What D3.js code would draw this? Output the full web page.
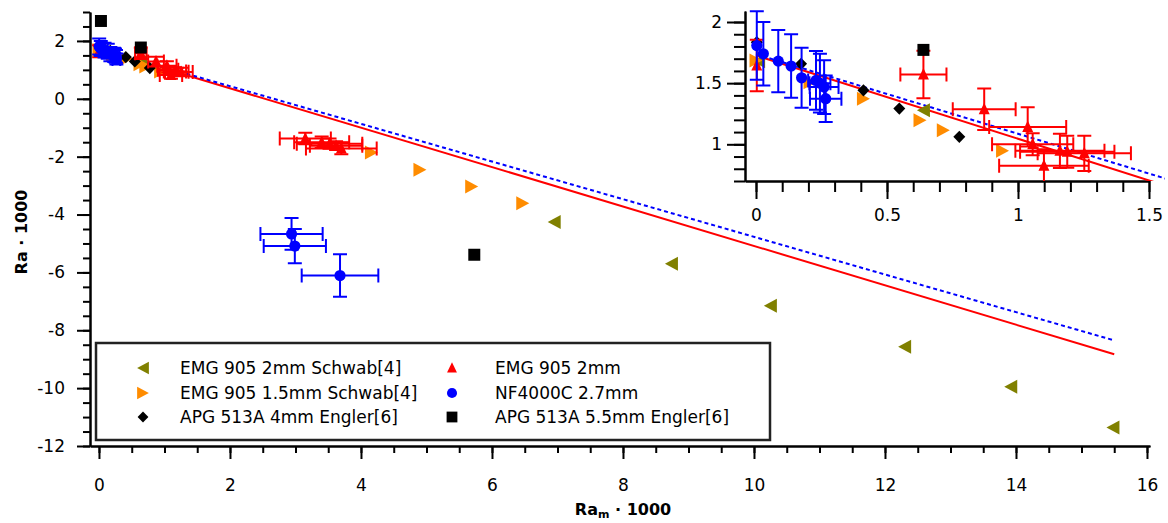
<!DOCTYPE html>
<html>
<head>
<meta charset="utf-8">
<script src="https://cdn.jsdelivr.net/npm/d3@7"></script>
<style>
    body { margin: 0; background: #fff; }
    svg text { font-family: "DejaVu Sans", Verdana, sans-serif; fill: #000; }
    .axis path, .axis line { stroke: #000; }
</style>
</head>
<body>
<div id="chart"></div>
<script>
// EMG 905 2mm Schwab[4]
const schwab2mm = [
    {x: 0.01, y: 1.68}, {x: 0.639, y: 1.278},
    {x: 6.95, y: -4.26}, {x: 8.74, y: -5.70}, {x: 10.25, y: -7.15},
    {x: 12.30, y: -8.57}, {x: 13.92, y: -9.95}, {x: 15.48, y: -11.36}
];
// EMG 905 1.5mm Schwab[4]
const schwab15mm = [
    {x: 0.0, y: 1.685}, {x: 0.206, y: 1.508}, {x: 0.41, y: 1.373}, {x: 0.626, y: 1.197},
    {x: 0.715, y: 1.115}, {x: 0.941, y: 0.947},
    {x: 4.16, y: -1.86}, {x: 4.90, y: -2.45}, {x: 5.69, y: -3.03}, {x: 6.47, y: -3.61}
];
// APG 513A 4mm Engler[6]
const engler4mm = [
    {x: 0.003, y: 1.834}, {x: 0.172, y: 1.658}, {x: 0.41, y: 1.441},
    {x: 0.547, y: 1.292}, {x: 0.776, y: 1.061}
];
// EMG 905 2mm (own measurement, with errors)
const emg2mm = [
    {x: 0.003, y: 1.644, xe: 0, ye: 0.21},
    {x: 0.639, y: 1.571, xe: 0.088, ye: 0.195},
    {x: 0.871, y: 1.286, xe: 0.12, ye: 0.17},
    {x: 1.037, y: 1.142, xe: 0.147, ye: 0.16},
    {x: 1.056, y: 1.0, xe: 0.155, ye: 0.09},
    {x: 1.099, y: 0.825, xe: 0.171, ye: 0.135},
    {x: 1.16, y: 0.947, xe: 0.17, ye: 0.14},
    {x: 1.188, y: 0.939, xe: 0.18, ye: 0.13},
    {x: 1.253, y: 0.926, xe: 0.178, ye: 0.145},
    {x: 3.15, y: -1.37, xe: 0.39, ye: 0.2},
    {x: 3.40, y: -1.50, xe: 0.42, ye: 0.2},
    {x: 3.52, y: -1.55, xe: 0.50, ye: 0.18},
    {x: 3.62, y: -1.62, xe: 0.40, ye: 0.15},
    {x: 3.70, y: -1.72, xe: 0.54, ye: 0.2}
];
// NF4000C 2.7mm
const nf4000c = [
    {x: 0.003, y: 1.807, xe: 0, ye: 0.28},
    {x: 0.028, y: 1.74, xe: 0, ye: 0.26},
    {x: 0.085, y: 1.68, xe: 0, ye: 0.255},
    {x: 0.134, y: 1.64, xe: 0, ye: 0.26},
    {x: 0.174, y: 1.544, xe: 0, ye: 0.245},
    {x: 0.229, y: 1.522, xe: 0.03, ye: 0.24},
    {x: 0.244, y: 1.50, xe: 0.04, ye: 0.24},
    {x: 0.26, y: 1.468, xe: 0.055, ye: 0.22},
    {x: 0.266, y: 1.373, xe: 0.06, ye: 0.19},
    {x: 2.94, y: -4.67, xe: 0.475, ye: 0.55},
    {x: 2.99, y: -5.09, xe: 0.475, ye: 0.59},
    {x: 3.68, y: -6.11, xe: 0.585, ye: 0.735}
];
// APG 513A 5.5mm Engler[6]
const engler55mm = [
    {x: 0.03, y: 2.69}, {x: 0.639, y: 1.772}, {x: 5.73, y: -5.39}
];

// fit lines
const fitX = [0, 15.5];
const fitRed = [1.726, -8.83];
const fitBlue = [1.737, -8.35];

const legendLabels = [
    "EMG 905 2mm Schwab[4]", "EMG 905 1.5mm Schwab[4]", "APG 513A 4mm Engler[6]",
    "EMG 905 2mm", "NF4000C 2.7mm", "APG 513A 5.5mm Engler[6]"
];

const mainXTicks = [0, 2, 4, 6, 8, 10, 12, 14, 16];
const mainYTicks = [-12, -10, -8, -6, -4, -2, 0, 2];
const insetXTicks = [0, 0.5, 1, 1.5];
const insetYTicks = [1, 1.5, 2];


class FitChart {
    constructor(parentElement) {
        this.parentElement = parentElement;
        this.series = [
            {label: legendLabels[0], data: schwab2mm, color: "#808000", shape: "left"},
            {label: legendLabels[1], data: schwab15mm, color: "#ff8c00", shape: "right"},
            {label: legendLabels[2], data: engler4mm, color: "#000", shape: "diamond"},
            {label: legendLabels[3], data: emg2mm, color: "#ff0000", shape: "up"},
            {label: legendLabels[4], data: nf4000c, color: "#0000ff", shape: "circle"},
            {label: legendLabels[5], data: engler55mm, color: "#000", shape: "square"}
        ];
        this.initVis();
    }

    marker(shape) {
        if (shape === "left") return "M-6.5,0L6.5,-7L6.5,7Z";
        if (shape === "right") return "M6.5,0L-6.5,-7L-6.5,7Z";
        if (shape === "up") return "M0,-6.5L5.5,5L-5.5,5Z";
        if (shape === "diamond") return "M0,-6.2L6,0L0,6.2L-6,0Z";
        if (shape === "square") return "M-6,-6H6V6H-6Z";
        return d3.symbol(d3.symbolCircle, Math.PI * 5.6 * 5.6)();
    }

    initVis() {
        let vis = this;

        vis.svg = d3.select("#" + vis.parentElement).append("svg")
            .attr("width", 1168)
            .attr("height", 523);

        // main scales
        vis.x = d3.scaleLinear().domain([-0.137, 16.046]).range([90, 1150]);
        vis.y = d3.scaleLinear().domain([-12, 3]).range([446, 12]);

        // inset scales
        vis.ix = d3.scaleLinear().domain([-0.042, 1.5]).range([745, 1149]);
        vis.iy = d3.scaleLinear().domain([0.7, 2.09]).range([181, 11]);

        vis.svg.append("clipPath").attr("id", "insetClip")
            .append("rect")
            .attr("x", 745).attr("y", 4)
            .attr("width", 420).attr("height", 177);

        vis.drawAxes();
        vis.drawPlot(vis.svg.append("g"), vis.x, vis.y);

        let inset = vis.svg.append("g");
        let insetPlot = inset.append("g").attr("clip-path", "url(#insetClip)");
        vis.drawPlot(insetPlot, vis.ix, vis.iy);

        vis.drawLegend();
    }

    drawAxes() {
        let vis = this;
        let fmt = d => String(d);

        // main x axis
        vis.svg.append("g").attr("class", "axis")
            .attr("transform", "translate(0,446)")
            .call(d3.axisBottom(vis.x).tickValues(d3.range(0, 16.01, 0.5)).tickSize(7).tickSizeOuter(0).tickFormat(""))
            .call(g => g.selectAll("line").attr("stroke-width", 2));
        vis.svg.append("g").attr("class", "axis")
            .attr("transform", "translate(0,446)")
            .call(d3.axisBottom(vis.x).tickValues(mainXTicks).tickSize(13).tickSizeOuter(0).tickPadding(20).tickFormat(fmt))
            .call(g => g.select(".domain").attr("stroke-width", 2.5))
            .call(g => g.selectAll("line").attr("stroke-width", 2))
            .call(g => g.selectAll("text").attr("font-size", 17).attr("font-family", null));

        // main y axis
        vis.svg.append("g").attr("class", "axis")
            .attr("transform", "translate(90,0)")
            .call(d3.axisLeft(vis.y).tickValues(d3.range(-12, 3.01, 0.5)).tickSize(7).tickSizeOuter(0).tickFormat(""))
            .call(g => g.selectAll("line").attr("stroke-width", 2));
        vis.svg.append("g").attr("class", "axis")
            .attr("transform", "translate(90,0)")
            .call(d3.axisLeft(vis.y).tickValues(mainYTicks).tickSize(13).tickSizeOuter(0).tickPadding(12).tickFormat(fmt))
            .call(g => g.select(".domain").attr("stroke-width", 2.5))
            .call(g => g.selectAll("line").attr("stroke-width", 2))
            .call(g => g.selectAll("text").attr("font-size", 17).attr("font-family", null));

        // inset x axis
        vis.svg.append("g").attr("class", "axis")
            .attr("transform", "translate(0,181)")
            .call(d3.axisBottom(vis.ix).tickValues(d3.range(0, 1.501, 0.1)).tickSize(11).tickSizeOuter(0).tickFormat(""))
            .call(g => g.selectAll("line").attr("stroke-width", 2));
        vis.svg.append("g").attr("class", "axis")
            .attr("transform", "translate(0,181)")
            .call(d3.axisBottom(vis.ix).tickValues(insetXTicks).tickSize(18).tickSizeOuter(0).tickPadding(10).tickFormat(fmt))
            .call(g => g.select(".domain").attr("stroke-width", 2.5))
            .call(g => g.selectAll("line").attr("stroke-width", 2))
            .call(g => g.selectAll("text").attr("font-size", 17).attr("font-family", null));

        // inset y axis
        vis.svg.append("g").attr("class", "axis")
            .attr("transform", "translate(745,0)")
            .call(d3.axisLeft(vis.iy).tickValues(d3.range(0.7, 2.091, 0.1)).tickSize(11).tickSizeOuter(0).tickFormat(""))
            .call(g => g.selectAll("line").attr("stroke-width", 2));
        vis.svg.append("g").attr("class", "axis")
            .attr("transform", "translate(745,0)")
            .call(d3.axisLeft(vis.iy).tickValues(insetYTicks).tickSize(18).tickSizeOuter(0).tickPadding(5).tickFormat(fmt))
            .call(g => g.select(".domain").attr("stroke-width", 2.5))
            .call(g => g.selectAll("line").attr("stroke-width", 2))
            .call(g => g.selectAll("text").attr("font-size", 17).attr("font-family", null));

        // axis titles
        vis.svg.append("text")
            .attr("transform", "translate(27,232) rotate(-90)")
            .attr("text-anchor", "middle")
            .attr("font-size", 16)
            .attr("font-weight", "bold")
            .text("Ra · 1000");

        let xt = vis.svg.append("text")
            .attr("x", 623).attr("y", 515)
            .attr("text-anchor", "middle")
            .attr("font-size", 16)
            .attr("font-weight", "bold");
        xt.append("tspan").text("Ra");
        xt.append("tspan").attr("font-size", 11).attr("dy", 3).text("m");
        xt.append("tspan").attr("dy", -3).text(" · 1000");
    }

    drawPlot(g, xs, ys) {
        let vis = this;

        // fit lines
        let line = d3.line().x(d => xs(d[0])).y(d => ys(d[1]));
        g.append("path")
            .datum(d3.zip(fitX, fitRed))
            .attr("d", line)
            .attr("fill", "none")
            .attr("stroke", "#ff0000")
            .attr("stroke-width", 2);
        g.append("path")
            .datum(d3.zip(fitX, fitBlue))
            .attr("d", line)
            .attr("fill", "none")
            .attr("stroke", "#0000ff")
            .attr("stroke-width", 2)
            .attr("stroke-dasharray", "4,3");

        let cap = 7;
        vis.series.forEach(function(s) {
            let sg = g.append("g");
            let withErr = s.data.filter(d => d.ye !== undefined);

            // error bars
            let eb = sg.selectAll(".err").data(withErr).enter().append("g")
                .attr("stroke", s.color)
                .attr("stroke-width", 2);
            eb.append("path")
                .attr("fill", "none")
                .attr("d", function(d) {
                    let p = "";
                    if (d.ye > 0) {
                        let x0 = xs(d.x), ya = ys(d.y + d.ye), yb = ys(d.y - d.ye);
                        p += `M${x0},${ya}V${yb}M${x0 - cap},${ya}H${x0 + cap}M${x0 - cap},${yb}H${x0 + cap}`;
                    }
                    if (d.xe > 0) {
                        let y0 = ys(d.y), xa = xs(d.x - d.xe), xb = xs(d.x + d.xe);
                        p += `M${xa},${y0}H${xb}M${xa},${y0 - cap}V${y0 + cap}M${xb},${y0 - cap}V${y0 + cap}`;
                    }
                    return p;
                });

            sg.selectAll(".pt").data(s.data).enter().append("path")
                .attr("d", vis.marker(s.shape))
                .attr("transform", d => `translate(${xs(d.x)},${ys(d.y)})`)
                .attr("fill", s.color);
        });
    }

    drawLegend() {
        let vis = this;
        let lg = vis.svg.append("g");

        lg.append("rect")
            .attr("x", 96).attr("y", 343)
            .attr("width", 674).attr("height", 97)
            .attr("fill", "#fff")
            .attr("stroke", "#222")
            .attr("stroke-width", 2.5);

        let rowY = [368, 393, 417];
        vis.series.forEach(function(s, i) {
            let col = Math.floor(i / 3), row = i % 3;
            let mx = col === 0 ? 143 : 452;
            let tx = col === 0 ? 180 : 495;
            lg.append("path")
                .attr("d", vis.marker(s.shape))
                .attr("transform", `translate(${mx},${rowY[row]}) scale(0.9)`)
                .attr("fill", s.color);
            lg.append("text")
                .attr("x", tx).attr("y", rowY[row] + 6)
                .attr("font-size", 17)
                .text(s.label);
        });
    }
}

new FitChart("chart");
</script>
</body>
</html>
